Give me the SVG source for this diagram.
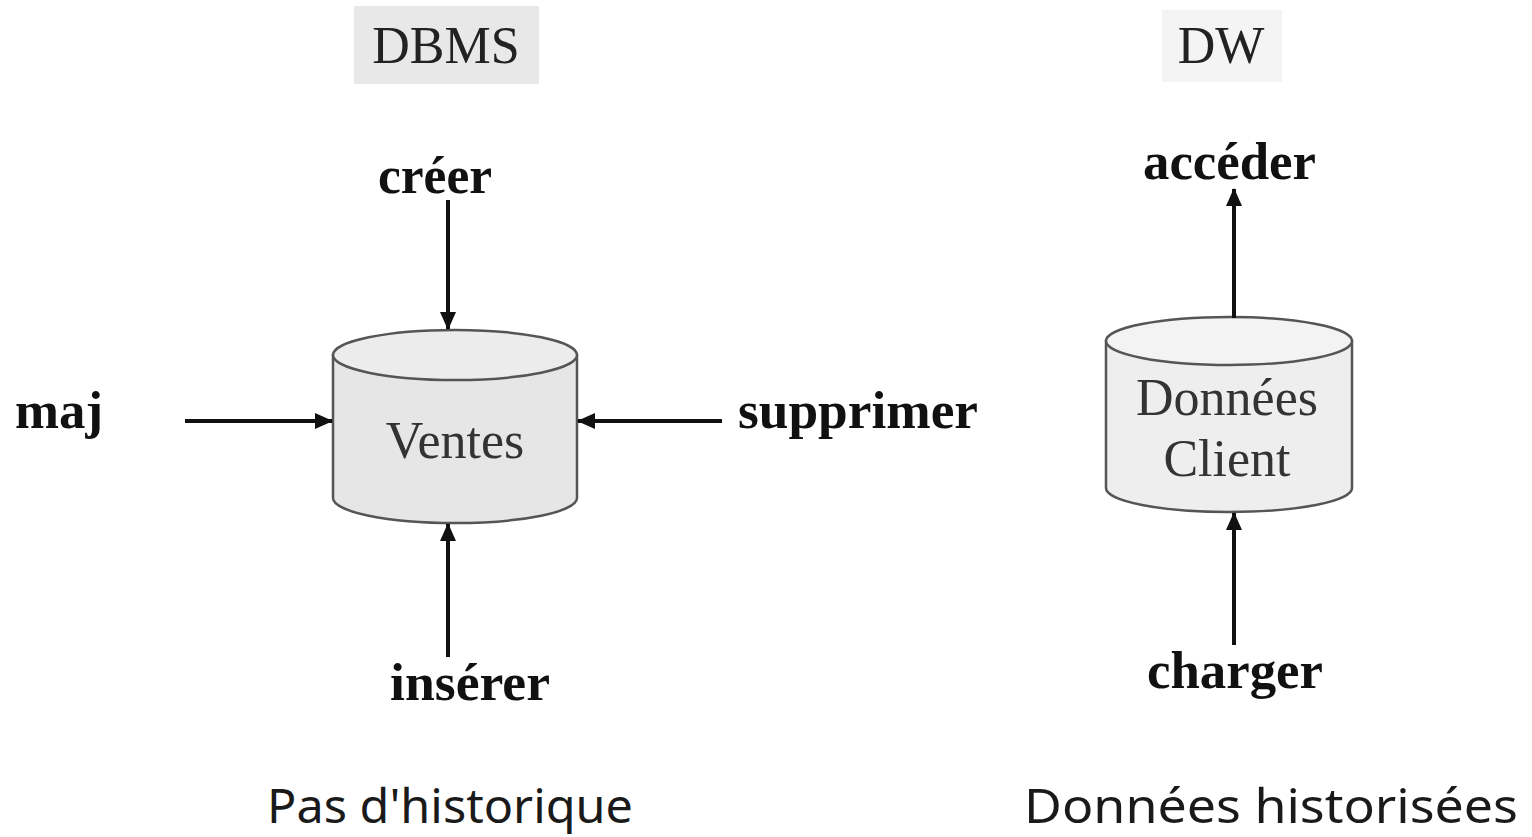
<svg xmlns="http://www.w3.org/2000/svg" width="1532" height="837" viewBox="0 0 1532 837">
  <style>
    .title { font-family: "Liberation Serif", serif; font-size: 52px; fill: #222; text-anchor: middle; }
    .lbl { font-family: "Liberation Serif", serif; font-size: 52px; font-weight: bold; fill: #111; }
    .db { font-family: "Liberation Serif", serif; font-size: 52px; fill: #333; text-anchor: middle; }
    .foot { font-family: "Noto Sans", "DejaVu Sans", sans-serif; font-size: 47px; fill: #1a1a1a; }
    .cyl { stroke: #555; stroke-width: 2.5; }
    .arr { stroke: #111; stroke-width: 4; fill: none; marker-end: url(#ah); }
  </style>
  <defs>
    <marker id="ah" markerUnits="userSpaceOnUse" markerWidth="18" markerHeight="16" refX="17" refY="8" orient="auto">
      <path d="M0,0 L18,8 L0,16 Z" fill="#111"/>
    </marker>
  </defs>
  <rect width="1532" height="837" fill="#ffffff"/>

  <g id="dbms-title">
    <rect x="354" y="6" width="185" height="78" fill="#e8e8e8"/>
    <text class="title" x="446" y="63">DBMS</text>
  </g>
  <g id="dw-title">
    <rect x="1162" y="10" width="120" height="72" fill="#f4f4f4"/>
    <text class="title" x="1221" y="63">DW</text>
  </g>

  <g id="ventes">
    <path class="cyl" d="M333,355 L333,498 A122,25 0 0 0 577,498 L577,355 Z" fill="#e6e6e6"/>
    <ellipse class="cyl" cx="455" cy="355" rx="122" ry="25" fill="#ececec"/>
    <text class="db" x="455" y="458">Ventes</text>
  </g>

  <g id="donnees-client">
    <path class="cyl" d="M1106,341 L1106,488 A123,24 0 0 0 1352,488 L1352,341 Z" fill="#eeeeee"/>
    <ellipse class="cyl" cx="1229" cy="341" rx="123" ry="24" fill="#f3f3f3"/>
    <text class="db" x="1227" y="415">Données</text>
    <text class="db" x="1227" y="476">Client</text>
  </g>

  <g id="labels">
    <text class="lbl" x="378" y="193" textLength="114" lengthAdjust="spacingAndGlyphs">créer</text>
    <text class="lbl" x="15" y="428" textLength="88" lengthAdjust="spacingAndGlyphs">maj</text>
    <text class="lbl" x="738" y="428" textLength="240" lengthAdjust="spacingAndGlyphs">supprimer</text>
    <text class="lbl" x="390" y="700" textLength="160" lengthAdjust="spacingAndGlyphs">insérer</text>
    <text class="lbl" x="1143" y="179" textLength="173" lengthAdjust="spacingAndGlyphs">accéder</text>
    <text class="lbl" x="1147" y="688" textLength="176" lengthAdjust="spacingAndGlyphs">charger</text>
  </g>

  <g id="connectors">
    <line class="arr" x1="448" y1="200" x2="448" y2="329"/>
    <line class="arr" x1="185" y1="421" x2="332" y2="421"/>
    <line class="arr" x1="722" y1="421" x2="578" y2="421"/>
    <line class="arr" x1="448" y1="657" x2="448" y2="524"/>
    <line class="arr" x1="1234" y1="318" x2="1234" y2="189"/>
    <line class="arr" x1="1234" y1="645" x2="1234" y2="513"/>
  </g>

  <g id="footers">
    <text class="foot" x="267" y="823" textLength="366" lengthAdjust="spacingAndGlyphs">Pas d'historique</text>
    <text class="foot" x="1024" y="823" textLength="494" lengthAdjust="spacingAndGlyphs">Données historisées</text>
  </g>
</svg>
